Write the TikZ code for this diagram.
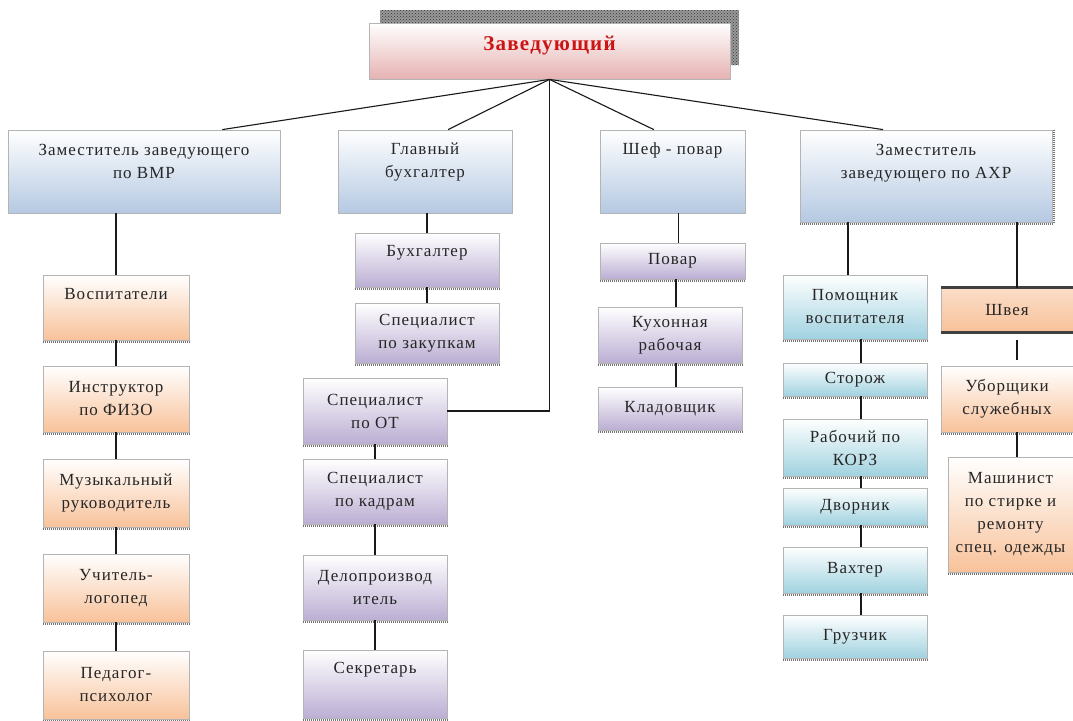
\documentclass[tikz,border=0pt]{standalone}
\usepackage{fontspec}
\setmainfont{Liberation Serif}[LetterSpace=6]
\usetikzlibrary{calc,patterns}

\definecolor{bluebot}{HTML}{B5C9E2}
\definecolor{pinkbot}{HTML}{E6B2B2}
\definecolor{peachbot}{HTML}{F8C29A}
\definecolor{lilacbot}{HTML}{BBAED3}
\definecolor{aquabot}{HTML}{A0D2DF}
\definecolor{framegray}{HTML}{B4B4B4}
\definecolor{headred}{HTML}{CC1414}

\tikzset{
	box/.style={draw=framegray, line width=0.8pt, inner sep=2pt, align=center,
		font=\fontsize{17}{23}\selectfont, text=black!85},
	head/.style={box, top color=white, bottom color=pinkbot,
		font=\fontsize{21}{24}\selectfont\bfseries, text=headred},
	deputy/.style={box, top color=white, bottom color=bluebot},
	peach/.style={box, top color=white, bottom color=peachbot},
	lilac/.style={box, top color=white, bottom color=lilacbot},
	aqua/.style={box, top color=white, bottom color=aquabot},
	sz/.style 2 args={minimum width=#1, minimum height=#2},
	lift/.style={text depth=#1},
	link/.style={line width=1.1pt, black!90},
	shadowline/.style={line width=2pt, black!55, dash pattern=on 1pt off 1pt},
}

\begin{document}
\begin{tikzpicture}[x=1pt, y=-1pt]
		\fill[white] (0,0) rectangle (1073,720);
		\useasboundingbox (0,0) rectangle (1073,720);
		% shadow of the head
		\fill[black!40] (380,10) rectangle (739,65);
		\fill[pattern=crosshatch dots, pattern color=black!80] (380,10) rectangle (739,65);
		% head
		\node[head, sz={361pt}{56pt}, lift=16pt] (zav) at (549.5,51) {Заведующий};
		% deputies
		\node[deputy, sz={272pt}{83pt}, lift=20pt] (vmr) at (144,171.5) {Заместитель заведующего\\по ВМР};
		\node[deputy, sz={174pt}{83pt}, lift=22pt] (gb) at (425,171.5) {Главный\\бухгалтер};
		\node[deputy, sz={145pt}{83pt}, lift=46pt] (chef) at (672.5,171.5) {Шеф - повар};
		\node[deputy, sz={252pt}{92pt}, lift=30pt] (axr) at (926,176) {Заместитель\\заведующего по АХР};
		% under ВМР
		\node[peach, sz={146pt}{65pt}, lift=28pt] (vosp) at (116,307.5) {Воспитатели};
		\node[peach, sz={146pt}{66pt}] (instr) at (116,399) {Инструктор\\по ФИЗО};
		\node[peach, sz={146pt}{68pt}] (muz) at (116,493) {Музыкальный\\руководитель};
		\node[peach, sz={146pt}{68pt}] (logo) at (116,588) {Учитель-\\логопед};
		\node[peach, sz={146pt}{68pt}] (psych) at (116,685) {Педагог-\\психолог};
		% under главный бухгалтер
		\node[lilac, sz={144pt}{54pt}, lift=18pt] (buh) at (427,260) {Бухгалтер};
		\node[lilac, sz={144pt}{60pt}] (zak) at (427,333) {Специалист\\по закупкам};
		\node[lilac, sz={144pt}{66pt}] (ot) at (375,411) {Специалист\\по ОТ};
		\node[lilac, sz={144pt}{65pt}] (kadr) at (375,491.5) {Специалист\\по кадрам};
		\node[lilac, sz={144pt}{65pt}] (delo) at (375,587.5) {Делопроизвод\\итель};
		\node[lilac, sz={144pt}{68pt}, lift=32pt] (sekr) at (375,684) {Секретарь};
		% kitchen
		\node[lilac, sz={145pt}{36pt}] (povar) at (672.5,261) {Повар};
		\node[lilac, sz={144pt}{56pt}] (kuh) at (670,335) {Кухонная\\рабочая};
		\node[lilac, sz={144pt}{43pt}] (klad) at (670,408.5) {Кладовщик};
		% under АХР
		\node[aqua, sz={144pt}{64pt}] (pom) at (855,307) {Помощник\\воспитателя};
		\node[aqua, sz={144pt}{33pt}] (stor) at (855,379.5) {Сторож};
		\node[aqua, sz={144pt}{57pt}] (korz) at (855,447.5) {Рабочий по\\КОРЗ};
		\node[aqua, sz={144pt}{37pt}] (dvor) at (855,506.5) {Дворник};
		\node[aqua, sz={144pt}{46pt}] (vaht) at (855,570) {Вахтер};
		\node[aqua, sz={144pt}{43pt}] (gruz) at (855,636.5) {Грузчик};
		\node[box, top color=peachbot!55, bottom color=peachbot, sz={132pt}{44pt}] (shveya) at (1007,310) {Швея};
		\node[peach, sz={132pt}{66pt}] (uborsh) at (1007,399) {Уборщики\\служебных};
		\node[peach, sz={125pt}{115pt}] (mash) at (1010.5,514.5) {Машинист\\по стирке и\\ремонту\\спец. одежды};
		% dark edges of Швея
		\draw[line width=2.5pt, black!75] (shveya.north west) -- (shveya.north east);
		\draw[line width=2.5pt, black!75] (shveya.south west) -- (shveya.south east);
		% shadows under the boxes
		\foreach \n in {vosp,instr,muz,logo,psych,buh,zak,ot,kadr,delo,sekr,povar,kuh,klad,pom,stor,korz,dvor,vaht,gruz,uborsh,mash,axr}
			\draw[shadowline] ([yshift=-1.5pt]\n.south west) -- ([yshift=-1.5pt]\n.south east);
		\draw[shadowline] ([xshift=1.5pt]axr.north east) -- ([xshift=1.5pt]axr.south east);
		% from the head
		\draw[link] (zav.south) -- ($(vmr.north west)!0.787!(vmr.north east)$);
		\draw[link] (zav.south) -- ($(gb.north west)!0.632!(gb.north east)$);
		\draw[link] (zav.south) -- ($(chef.north west)!0.372!(chef.north east)$);
		\draw[link] (zav.south) -- ($(axr.north west)!0.33!(axr.north east)$);
		\draw[link] (zav.south) |- (ot.east);
		% ВМР column
		\draw[link] (vosp.north |- vmr.south) -- (vosp.north);
		\draw[link] (vosp) -- (instr);
		\draw[link] (instr) -- (muz);
		\draw[link] (muz) -- (logo);
		\draw[link] (logo) -- (psych);
		% бухгалтерия
		\draw[link] (buh.north |- gb.south) -- (buh.north);
		\draw[link] (buh) -- (zak);
		\draw[link] (ot) -- (kadr);
		\draw[link] (kadr) -- (delo);
		\draw[link] (delo) -- (sekr);
		% kitchen
		\draw[link] ([xshift=6pt]povar.north |- chef.south) -- ([xshift=6pt]povar.north);
		\draw[link] ([xshift=6pt]povar.south -| kuh.north) -- ([xshift=6pt]kuh.north);
		\draw[link] ([xshift=6pt]kuh.south) -- ([xshift=6pt]klad.north);
		% АХР columns
		\draw[link] ([xshift=-7pt]pom.north |- axr.south) -- ([xshift=-7pt]pom.north);
		\draw[link] ([xshift=6pt]pom.south) -- ([xshift=6pt]stor.north);
		\draw[link] ([xshift=6pt]stor.south) -- ([xshift=6pt]korz.north);
		\draw[link] ([xshift=6pt]korz.south) -- ([xshift=6pt]dvor.north);
		\draw[link] ([xshift=6pt]dvor.south) -- ([xshift=6pt]vaht.north);
		\draw[link] ([xshift=6pt]vaht.south) -- ([xshift=6pt]gruz.north);
		\draw[link] ([xshift=10pt]shveya.north |- axr.south) -- ([xshift=10pt]shveya.north);
		\draw[link, shorten <=8pt, shorten >=6pt] ([xshift=10pt]shveya.south) -- ([xshift=10pt]uborsh.north);
		\draw[link] ([xshift=10pt]uborsh.south) -- ([xshift=10pt]uborsh.south |- mash.north);
	\end{tikzpicture}
\end{document}
